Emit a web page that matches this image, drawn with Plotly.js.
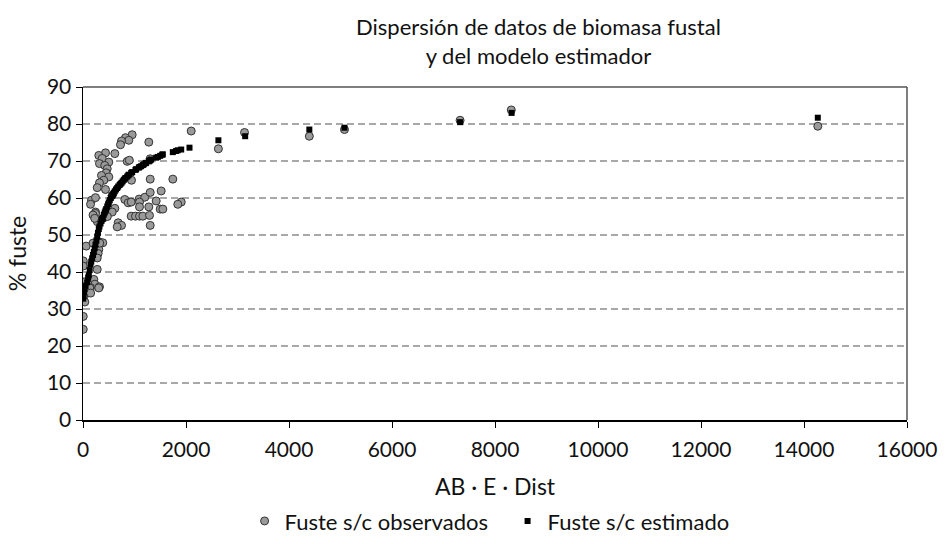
<!DOCTYPE html>
<html>
<head>
<meta charset="utf-8">
<script src="https://cdn.plot.ly/plotly-3.0.1.min.js"></script>
<style>html,body{margin:0;padding:0;background:#fff;}#chart{width:948px;height:544px;}</style>
</head>
<body>
<div id="chart"></div>
<script>
// Observed: Fuste s/c observados
const obsX = [955,825,890,748,728,1278,2101,618,437,307,373,501,320,423,470,858,900,1305,
  450,359,501,404,320,942,1305,1744,276,437,165,243,567,812,878,146,1090,1200,1518,1305,
  936,1097,1421,1907,1841,1097,1278,1499,1550,243,618,567,243,936,1019,1097,1162,1291,
  683,748,664,1305,62,320,384,307,294,276,5,3,276,10,35,210,230,146,320,5,10,16,35,5,5,
  195,389,279,473,227,325,195,130,149,305,
  2629,3136,4395,5077,7322,8316,14268];
const obsY = [77.1,76.3,75.6,75.4,74.4,75.1,78.1,72.0,72.2,71.5,70.7,69.7,69.3,68.8,67.9,69.9,70.2,70.6,
  66.8,66.1,65.7,64.8,64.1,64.8,65.1,65.1,62.8,62.3,59.4,60.1,60.7,59.6,58.7,58.3,59.7,60.2,61.9,61.5,
  58.9,58.9,59.2,58.9,58.3,57.6,57.6,57.0,57.0,56.2,57.2,56.2,55.8,55.1,55.1,55.1,55.1,55.3,
  53.3,52.6,52.2,52.6,47.0,48.1,47.9,46.1,45.0,43.8,43.0,41.6,40.7,37.3,37.3,38.0,36.7,35.8,36.0,36.0,34.2,33.1,31.9,28.0,24.5,
  55.4,54.5,53.6,55.0,54.5,47.8,47.8,35.7,34.3,35.7,
  73.3,77.7,76.7,78.5,81.0,83.8,79.4];

// Estimated: Fuste s/c estimado
const estX = [5,10,16,30,50,81,100,113,130,146,160,178,195,210,227,243,260,276,290,307,320,340,359,373,384,
  404,423,437,450,470,487,501,520,540,567,584,598,618,640,664,683,710,728,748,770,792,812,825,858,878,890,
  936,955,1019,1032,1084,1097,1129,1162,1181,1214,1226,1278,1291,1305,1324,1421,1453,1499,1538,1550,1744,
  1808,1841,1907,2068,2629,3149,4395,5077,7322,8323,14268];
const estY = [32.8,33.5,34.6,35.5,36.2,37.2,38.5,39.1,40.5,42.0,42.8,43.7,44.6,45.4,46.4,47.4,48.5,49.6,50.6,51.6,52.3,53.1,53.8,54.3,54.6,
  55.5,56.1,56.6,57.0,57.7,58.3,58.8,59.4,60.0,60.6,61.0,61.4,61.8,62.3,62.7,63.1,63.5,63.8,64.1,64.5,64.9,65.2,65.4,65.8,66.1,66.3,
  66.8,67.0,67.6,67.8,68.2,68.4,68.6,68.9,69.1,69.4,69.5,69.9,70.1,70.2,70.4,70.9,71.1,71.4,71.7,71.8,72.4,
  72.7,72.9,73.1,73.6,75.6,76.7,78.5,79.0,80.5,83.0,81.7];

const seriesNames = ['Fuste s/c observados', 'Fuste s/c estimado'];
const xTicks = [0,2000,4000,6000,8000,10000,12000,14000,16000];
const yTicks = [0,10,20,30,40,50,60,70,80,90];

const FONT = 'Lato, "Open Sans", sans-serif';

const traces = [
  {x: obsX, y: obsY, name: seriesNames[0], type: 'scatter', mode: 'markers',
   marker: {symbol: 'circle', size: 8, color: '#9a9a9a', line: {color: '#333', width: 1}}},
  {x: estX, y: estY, name: seriesNames[1], type: 'scatter', mode: 'markers',
   marker: {symbol: 'square', size: 6, color: '#000', line: {width: 0}}}
];

const layout = {
  width: 948, height: 544,
  margin: {l: 83, r: 41, t: 87, b: 124, autoexpand: false},
  paper_bgcolor: '#fff', plot_bgcolor: '#fff',
  font: {family: FONT, color: '#111', size: 20},
  title: {text: 'Dispersión de datos de biomasa fustal<br>y del modelo estimador',
          font: {family: FONT, size: 22, color: '#111'},
          x: 0.568, xref: 'container', xanchor: 'center', y: 0.935, yref: 'container', yanchor: 'top'},
  xaxis: {range: [0, 16000], tickvals: xTicks, ticktext: xTicks.map(String),
          showgrid: false, zeroline: false, showline: true, linecolor: '#000', linewidth: 1.5,
          ticks: 'outside', ticklen: 6, tickcolor: '#000', tickwidth: 1, ticklabelstandoff: 4,
          tickfont: {family: FONT, size: 21, color: '#111'},
          title: {text: 'AB · E · Dist', font: {family: FONT, size: 23, color: '#111'}, standoff: 20}},
  yaxis: {range: [0, 90], tickvals: yTicks, ticktext: yTicks.map(String),
          showgrid: true, gridcolor: '#a8a8a8', gridwidth: 1.2, griddash: '7px,4px',
          zeroline: false, showline: true, linecolor: '#000', linewidth: 1.5,
          ticks: 'outside', ticklen: 6, tickcolor: '#000', tickwidth: 1,
          tickfont: {family: FONT, size: 21, color: '#111'},
          title: {text: '% fuste', font: {family: FONT, size: 23, color: '#111'}, standoff: 14}},
  showlegend: true,
  legend: {orientation: 'h', x: 0.258, xanchor: 'left', xref: 'container',
           y: 0.042, yref: 'container', yanchor: 'middle',
           entrywidth: 218, entrywidthmode: 'pixels',
           font: {family: FONT, size: 22, color: '#111'}, itemwidth: 30, tracegroupgap: 0},
  shapes: [
    {type: 'line', xref: 'paper', yref: 'paper', x0: 0, x1: 1, y0: 1, y1: 1, line: {color: '#555', width: 1.5}},
    {type: 'line', xref: 'paper', yref: 'paper', x0: 1, x1: 1, y0: 0, y1: 1, line: {color: '#555', width: 1.5}}
  ]
};

Plotly.newPlot('chart', traces, layout, {displayModeBar: false, staticPlot: true});
</script>
</body>
</html>
